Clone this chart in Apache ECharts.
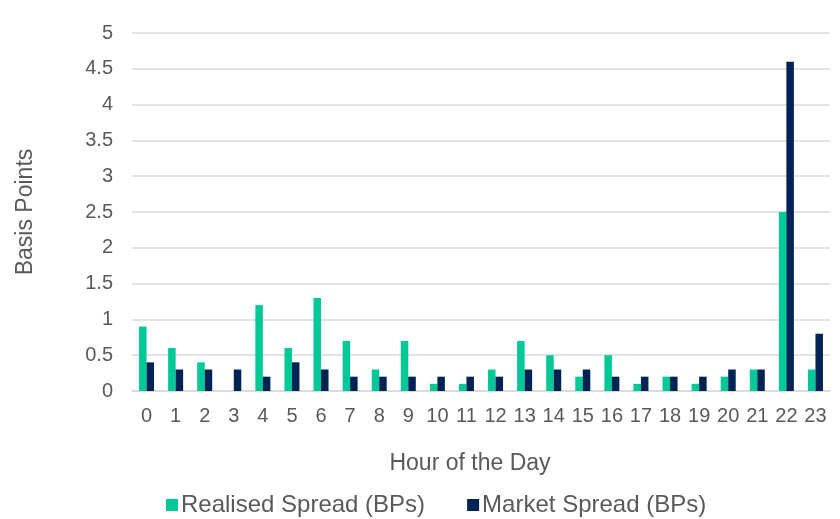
<!DOCTYPE html>
<html>
<head>
<meta charset="utf-8">
<script src="https://cdn.jsdelivr.net/npm/echarts@6/dist/echarts.min.js"></script>
<style>
  html, body { margin: 0; padding: 0; background: #fff; }
  #chart { width: 840px; height: 519px; }
</style>
</head>
<body>
<div id="chart"></div>
<script>
// hours of the day
var hours = ['0','1','2','3','4','5','6','7','8','9','10','11','12','13','14','15','16','17','18','19','20','21','22','23'];
var realisedSpread = [0.9, 0.6, 0.4, 0, 1.2, 0.6, 1.3, 0.7, 0.3, 0.7, 0.1, 0.1, 0.3, 0.7, 0.5, 0.2, 0.5, 0.1, 0.2, 0.1, 0.2, 0.3, 2.5, 0.3];
var marketSpread = [0.4, 0.3, 0.3, 0.3, 0.2, 0.4, 0.3, 0.2, 0.2, 0.2, 0.2, 0.2, 0.2, 0.3, 0.3, 0.3, 0.2, 0.2, 0.2, 0.2, 0.3, 0.3, 4.6, 0.8];

var textColor = '#595959';
var fontName = '"Liberation Sans", Arial, sans-serif';

echarts.init(document.querySelector('#chart')).setOption({
    textStyle: { fontFamily: fontName },
    grid: { left: 132, right: 10, top: 33, bottom: 128 },
    legend: {
        left: 161,
        top: 488,
        itemWidth: 12,
        itemHeight: 12,
        itemGap: 42,
        icon: 'rect',
        textStyle: { color: textColor, fontSize: 24, fontFamily: fontName, padding: [0, 0, 0, -2] },
        data: ['Realised Spread (BPs)', 'Market Spread (BPs)']
    },
    xAxis: {
        type: 'category',
        data: hours,
        name: 'Hour of the Day',
        nameLocation: 'middle',
        nameGap: 61,
        nameTextStyle: { color: textColor, fontSize: 23, padding: [0, 22, 0, 0] },
        axisLine: { lineStyle: { color: '#D9D9D9', width: 1.5 } },
        axisTick: { show: false },
        axisLabel: { color: textColor, fontSize: 20, margin: 15 }
    },
    yAxis: {
        type: 'value',
        min: 0,
        max: 5,
        interval: 0.5,
        name: 'Basis Points',
        nameLocation: 'middle',
        nameGap: 95,
        nameTextStyle: { color: textColor, fontSize: 23 },
        axisLine: { show: false },
        axisTick: { show: false },
        axisLabel: { color: textColor, fontSize: 20, margin: 19 },
        splitLine: { lineStyle: { color: '#D9D9D9', width: 1.5 } }
    },
    series: [{
        name: 'Realised Spread (BPs)',
        type: 'bar',
        data: realisedSpread,
        barWidth: 7.5,
        barGap: '0%',
        itemStyle: { color: '#00C896' }
    }, {
        name: 'Market Spread (BPs)',
        type: 'bar',
        data: marketSpread,
        barWidth: 7.5,
        itemStyle: { color: '#002355' }
    }]
});
</script>
</body>
</html>
